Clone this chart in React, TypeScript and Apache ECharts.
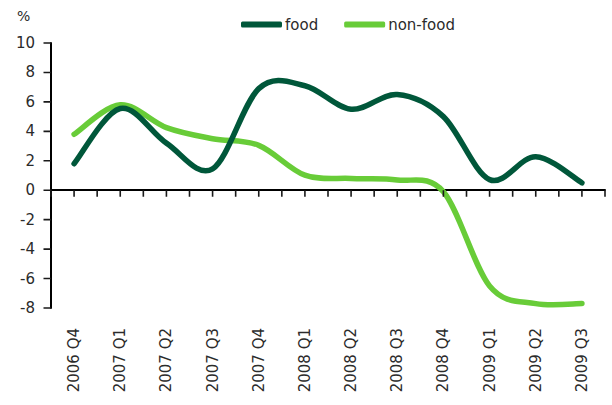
import React, { useEffect, useRef } from "react";
import * as echarts from "echarts";

// Quarterly categories shown along the bottom axis
const quarters = [
  "2006 Q4", "2007 Q1", "2007 Q2", "2007 Q3", "2007 Q4", "2008 Q1",
  "2008 Q2", "2008 Q3", "2008 Q4", "2009 Q1", "2009 Q2", "2009 Q3",
];

// Year-on-year change, %
const food = [1.8, 5.55, 3.2, 1.45, 6.9, 7.1, 5.5, 6.5, 5.0, 0.72, 2.28, 0.5];
const nonFood = [3.8, 5.8, 4.25, 3.5, 3.05, 1.02, 0.8, 0.7, -0.1, -6.5, -7.7, -7.7];

const yTicks = { min: -8, max: 10, step: 2 };

const FONT = "'DejaVu Sans', sans-serif";
const TEXT = "#2b2b2b";
const AXIS = "#000";
const FOOD_COLOR = "#00573a";
const NONFOOD_COLOR = "#68cc38";

const X_MIN = -0.5;
const X_MAX = quarters.length - 0.5;

const toPairs = (vals: number[]) => vals.map((v, i) => [i, v]);

// Tick positions: one at each quarter and one halfway between quarters
const xTickValues: number[] = [];
for (let k = 0; k <= quarters.length * 2; k++) xTickValues.push(X_MIN + k * 0.5);
const yTickValues: number[] = [];
for (let v = yTicks.min; v <= yTicks.max; v += yTicks.step) yTickValues.push(v);

// Cardinal-spline smoothing (Bezier control points at 1/6 of the neighbour chord)
function smoothPath(pts: number[][]): string {
  let d = `M${pts[0][0]},${pts[0][1]}`;
  for (let i = 0; i < pts.length - 1; i++) {
    const p0 = pts[i - 1] || pts[i];
    const p1 = pts[i];
    const p2 = pts[i + 1];
    const p3 = pts[i + 2] || p2;
    const c1x = p1[0] + (p2[0] - p0[0]) / 6;
    const c1y = p1[1] + (p2[1] - p0[1]) / 6;
    const c2x = p2[0] - (p3[0] - p1[0]) / 6;
    const c2y = p2[1] - (p3[1] - p1[1]) / 6;
    d += ` C${c1x},${c1y} ${c2x},${c2y} ${p2[0]},${p2[1]}`;
  }
  return d;
}

function lineSeries(name: string, values: number[], color: string, z: number) {
  return {
    name,
    type: "custom",
    xAxisIndex: 0,
    yAxisIndex: 0,
    data: toPairs(values),
    itemStyle: { color },
    clip: false,
    z,
    renderItem: (params: any, api: any) => {
      if (params.dataIndex !== 0) return null;
      const pts = values.map((v, i) => api.coord([i, v]));
      return {
        type: "path",
        shape: { pathData: smoothPath(pts) },
        style: { stroke: color, lineWidth: 5.5, fill: "none", lineCap: "round", lineJoin: "round" },
      };
    },
  };
}

// All tick stubs as one stroked path, placed through the axes' scales
const tickSeries = {
  type: "custom",
  xAxisIndex: 0,
  yAxisIndex: 0,
  silent: true,
  clip: false,
  z: 6,
  data: [[0, 0]],
  renderItem: (params: any, api: any) => {
    if (params.dataIndex !== 0) return null;
    let d = "";
    xTickValues.forEach((v) => {
      const c = api.coord([v, 0]);
      d += `M${c[0]},${c[1]} L${c[0]},${c[1] + 6.5} `;
    });
    yTickValues.forEach((v) => {
      const c = api.coord([X_MIN, v]);
      d += `M${c[0] - 7.5},${c[1]} L${c[0]},${c[1]} `;
    });
    return {
      type: "path",
      shape: { pathData: d },
      style: { stroke: "#1a1a1a", lineWidth: 1.6, fill: "none", lineCap: "butt" },
    };
  },
};

export default function App() {
  const ref = useRef<HTMLDivElement>(null);

  useEffect(() => {
    document.body.style.margin = "0";
    if (!ref.current) return;
    const chart = echarts.init(ref.current, null, { renderer: "svg" });

    const quarterLabel = (v: number) => {
      const r = Math.round(v);
      return Math.abs(v - r) < 1e-6 && r >= 0 && r < quarters.length ? quarters[r] : "";
    };

    chart.setOption({
      animation: false,
      textStyle: { fontFamily: FONT },
      grid: { left: 51, right: 7, top: 43, bottom: 97, containLabel: false, outerBoundsMode: "none" },
      legend: {
        left: 236,
        top: 12,
        itemWidth: 41,
        itemHeight: 6,
        itemGap: 26,
        icon: "roundRect",
        textStyle: { fontFamily: FONT, fontSize: 15, color: TEXT, padding: [0, 0, 0, -2] },
        data: ["food", "non-food"],
      },
      graphic: [
        {
          type: "text",
          left: 17,
          top: 9,
          style: { text: "%", font: `14px ${FONT}`, fill: TEXT },
        },
      ],
      xAxis: [
        {
          // labels along the bottom edge
          type: "value",
          position: "bottom",
          min: X_MIN,
          max: X_MAX,
          interval: 0.5,
          axisLine: { show: false, onZero: false },
          axisTick: { show: false },
          splitLine: { show: false },
          axisLabel: {
            rotate: 90,
            margin: 20,
            fontSize: 15,
            fontFamily: FONT,
            color: TEXT,
            formatter: quarterLabel,
            showMinLabel: true,
            showMaxLabel: true,
          },
        },
        {
          // axis line sitting on y = 0
          type: "value",
          position: "bottom",
          min: X_MIN,
          max: X_MAX,
          interval: 0.5,
          axisLine: { show: true, onZero: true, lineStyle: { color: AXIS, width: 2 } },
          axisTick: { show: false },
          splitLine: { show: false },
          axisLabel: { show: false },
        },
      ],
      yAxis: {
        type: "value",
        min: yTicks.min,
        max: yTicks.max,
        interval: yTicks.step,
        axisLine: { show: true, onZero: false, lineStyle: { color: AXIS, width: 2 } },
        axisTick: { show: false },
        splitLine: { show: false },
        axisLabel: { fontSize: 15, fontFamily: FONT, color: TEXT, margin: 16 },
      },
      series: [
        lineSeries("non-food", nonFood, NONFOOD_COLOR, 2),
        lineSeries("food", food, FOOD_COLOR, 3),
        tickSeries,
      ],
    });

    return () => chart.dispose();
  }, []);

  return <div ref={ref} style={{ width: 612, height: 405 }} />;
}
